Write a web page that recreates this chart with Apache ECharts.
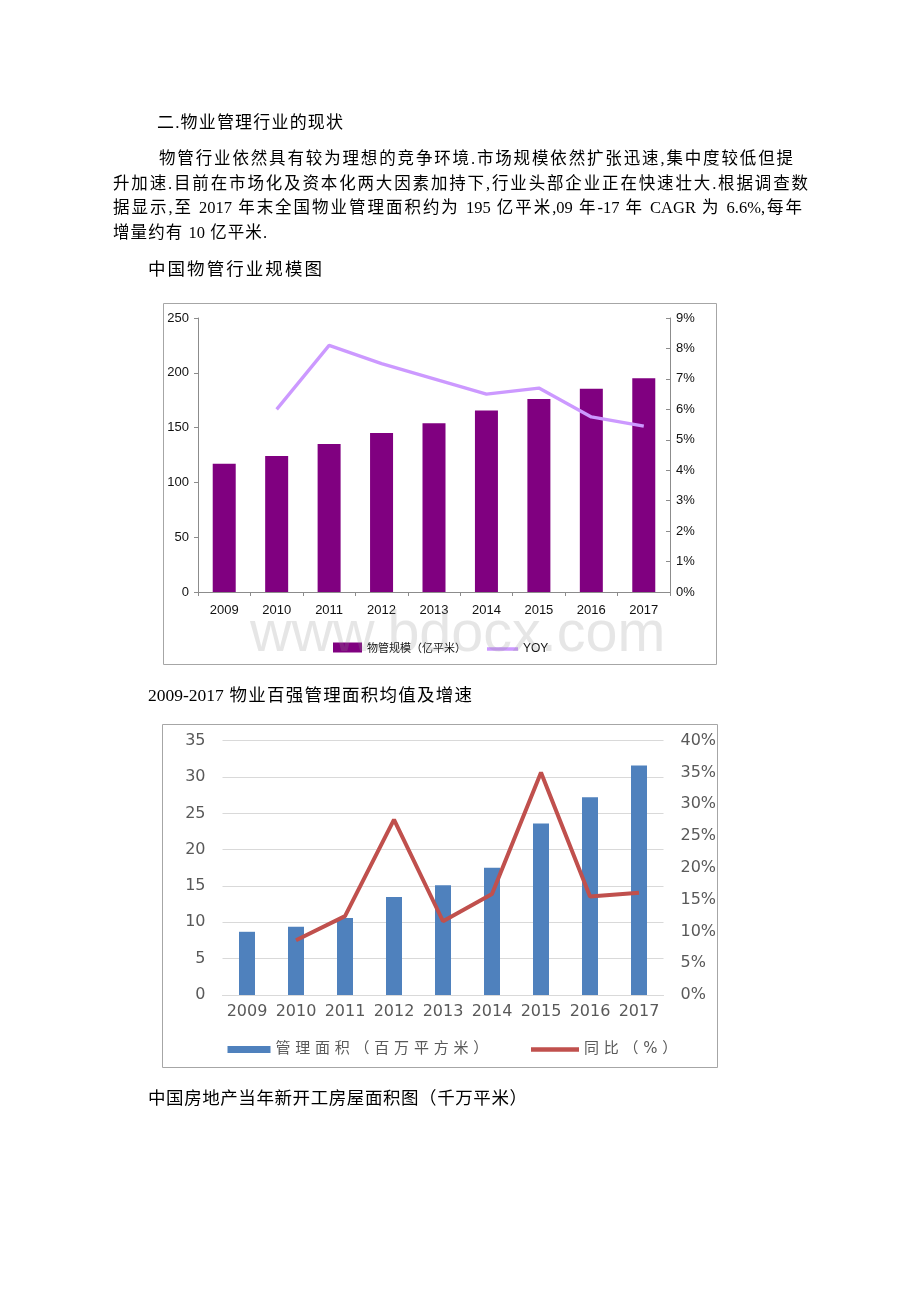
<!DOCTYPE html>
<html>
<head>
<meta charset="utf-8">
<script src="https://cdn.jsdelivr.net/npm/echarts@6/dist/echarts.min.js"></script>
<style>
  html, body { margin: 0; padding: 0; background: #fff; }
  #page { position: relative; width: 920px; height: 1302px; overflow: hidden; }
  #chart { position: absolute; left: 0; top: 0; width: 920px; height: 1302px; }
  .t { position: absolute; white-space: nowrap; color: #000;
       font-family: 'Liberation Serif', 'Noto Sans CJK SC', serif;
       text-align: justify; text-align-last: justify; line-height: 1; }
</style>
</head>
<body>
<div id="page">
  <div id="chart"></div>
  <div class="t" style="left:157px; top:114px; width:186px; font-size:17px;">二.物业管理行业的现状</div>
  <div class="t" style="left:159px; top:151px; width:634px; font-size:16.5px;">物管行业依然具有较为理想的竞争环境.市场规模依然扩张迅速,集中度较低但提</div>
  <div class="t" style="left:113px; top:175.5px; width:695px; font-size:16.5px;">升加速.目前在市场化及资本化两大因素加持下,行业头部企业正在快速壮大.根据调查数</div>
  <div class="t" style="left:113px; top:200px; width:689px; font-size:16.5px;">据显示,至 2017 年末全国物业管理面积约为 195 亿平米,09 年-17 年 CAGR 为 6.6%,每年</div>
  <div class="t" style="left:113px; top:224.5px; width:154px; font-size:16.5px;">增量约有 10 亿平米.</div>
  <div class="t" style="left:148px; top:261px; width:174px; font-size:17.5px;">中国物管行业规模图</div>
  <div class="t" style="left:148px; top:687px; width:324px; font-size:17.5px;">2009-2017 物业百强管理面积均值及增速</div>
  <div class="t" style="left:148px; top:1090px; width:379px; font-size:17.5px;">中国房地产当年新开工房屋面积图（千万平米）</div>
</div>
<script>
// ---- data ----
const years = ['2009', '2010', '2011', '2012', '2013', '2014', '2015', '2016', '2017'];
// chart 1: 中国物管行业规模 (亿平米) and YOY (%)
const scaleValues = [117, 124, 135, 145, 154, 165.5, 176, 185.5, 195];
const yoyValues = [null, 6.0, 8.1, 7.5, 7.0, 6.5, 6.7, 5.75, 5.45];
// chart 2: 百强管理面积均值 (百万平方米) and 同比 (%)
const areaValues = [8.7, 9.4, 10.6, 13.5, 15.1, 17.5, 23.6, 27.2, 31.6];
const growthValues = [null, 8.6, 12.4, 27.6, 11.6, 15.9, 35.0, 15.5, 16.1];
// axis ranges / tick steps
const axis1Left = { min: 0, max: 250, interval: 50 };
const axis1Right = { min: 0, max: 9, interval: 1 };
const axis2Left = { min: 0, max: 35, interval: 5 };
const axis2Right = { min: 0, max: 40, interval: 5 };
const names = {
  bar1: '物管规模（亿平米）', line1: 'YOY',
  bar2: '管理面积（百万平方米）', line2: '同比（%）'
};

const toSeries = arr => arr.map(v => (v === null ? '-' : v));
const spaced = s => s.split('').join(' ');

const narrow = "'Liberation Sans Narrow', 'Liberation Sans', Arial, sans-serif";
const ax1 = '#8c8c8c';
const lab2 = '#595959';

const chart = echarts.init(document.getElementById('chart'), null, { renderer: 'canvas' });
chart.setOption({
  animation: false,
  backgroundColor: 'transparent',
  grid: [
    { left: 198, top: 318, width: 472, height: 274 },
    { left: 222.5, top: 740.7, width: 441, height: 254.3 }
  ],
  xAxis: [
    {
      type: 'category', gridIndex: 0, data: years,
      axisLine: { lineStyle: { color: ax1, width: 1 } },
      axisTick: { show: true, length: 4, lineStyle: { color: ax1 } },
      axisLabel: { interval: 0, color: '#111', fontSize: 13, fontFamily: narrow, margin: 12 }
    },
    {
      type: 'category', gridIndex: 1, data: years,
      axisLine: { lineStyle: { color: '#d9d9d9', width: 1 } },
      axisTick: { show: false },
      axisLabel: { interval: 0, color: lab2, fontSize: 16, fontFamily: 'DejaVu Sans', margin: 9 }
    }
  ],
  yAxis: [
    {
      type: 'value', gridIndex: 0, min: axis1Left.min, max: axis1Left.max, interval: axis1Left.interval,
      axisLine: { show: true, lineStyle: { color: ax1 } },
      axisTick: { show: true, length: 4, lineStyle: { color: ax1 } },
      splitLine: { show: false },
      axisLabel: { color: '#111', fontSize: 13, fontFamily: narrow, margin: 9 }
    },
    {
      type: 'value', gridIndex: 0, position: 'right',
      min: axis1Right.min, max: axis1Right.max, interval: axis1Right.interval,
      axisLine: { show: true, lineStyle: { color: ax1 } },
      axisTick: { show: true, inside: true, length: 4, lineStyle: { color: ax1 } },
      splitLine: { show: false },
      axisLabel: { color: '#111', fontSize: 13, fontFamily: narrow, margin: 6, formatter: '{value}%' }
    },
    {
      type: 'value', gridIndex: 1, min: axis2Left.min, max: axis2Left.max, interval: axis2Left.interval,
      axisLine: { show: false }, axisTick: { show: false },
      splitLine: { show: true, lineStyle: { color: '#d9d9d9', width: 1 } },
      axisLabel: { color: lab2, fontSize: 16, fontFamily: 'DejaVu Sans', margin: 17 }
    },
    {
      type: 'value', gridIndex: 1, position: 'right',
      min: axis2Right.min, max: axis2Right.max, interval: axis2Right.interval,
      axisLine: { show: false }, axisTick: { show: false }, splitLine: { show: false },
      axisLabel: { color: lab2, fontSize: 16, fontFamily: 'DejaVu Sans', margin: 17, formatter: '{value}%' }
    }
  ],
  legend: [
    {
      data: [names.bar1], left: 328, top: 637, icon: 'rect', itemWidth: 29, itemHeight: 10,
      textStyle: { fontSize: 11, fontFamily: 'Noto Sans CJK SC', color: '#111' }
    },
    {
      data: [{ name: names.line1, icon: 'rect' }], left: 482, top: 638, itemWidth: 31, itemHeight: 3.5,
      textStyle: { fontSize: 12, fontFamily: narrow, color: '#111' }
    },
    {
      data: [names.bar2], left: 222.5, top: 1037, icon: 'rect', itemWidth: 43, itemHeight: 7,
      formatter: spaced,
      textStyle: { fontSize: 15, fontFamily: "'DejaVu Sans', 'Noto Sans CJK SC'", color: lab2 }
    },
    {
      data: [{ name: names.line2, icon: 'rect' }], left: 526, top: 1037, itemWidth: 48, itemHeight: 4.5,
      formatter: spaced,
      textStyle: { fontSize: 15, fontFamily: "'DejaVu Sans', 'Noto Sans CJK SC'", color: lab2 }
    }
  ],
  series: [
    {
      name: names.bar1, type: 'bar', xAxisIndex: 0, yAxisIndex: 0, barWidth: 23,
      itemStyle: { color: '#800080' }, data: scaleValues
    },
    {
      name: names.line1, type: 'line', xAxisIndex: 0, yAxisIndex: 1, symbol: 'none',
      lineStyle: { color: '#CC99FF', width: 3.3 }, itemStyle: { color: '#CC99FF' },
      data: toSeries(yoyValues)
    },
    {
      name: names.bar2, type: 'bar', xAxisIndex: 1, yAxisIndex: 2, barWidth: 16,
      itemStyle: { color: '#4F81BD' }, data: areaValues
    },
    {
      name: names.line2, type: 'line', xAxisIndex: 1, yAxisIndex: 3, symbol: 'none',
      lineStyle: { color: '#C0504D', width: 4 }, itemStyle: { color: '#C0504D' },
      data: toSeries(growthValues)
    }
  ],
  graphic: [
    {
      type: 'rect', z: 0, silent: true,
      shape: { x: 163.5, y: 303.5, width: 553, height: 361 },
      style: { fill: 'none', stroke: '#a6a6a6', lineWidth: 1 }
    },
    {
      type: 'rect', z: 0, silent: true,
      shape: { x: 162.5, y: 724.5, width: 555, height: 343 },
      style: { fill: 'none', stroke: '#a6a6a6', lineWidth: 1 }
    },
    {
      type: 'text', z: 100, silent: true, left: 250, top: 606,
      style: {
        text: 'www.bdocx.com', fontSize: 57.5, fontFamily: "'Liberation Sans', Arial, sans-serif",
        fill: 'rgba(140,140,140,0.22)'
      }
    }
  ]
});
</script>
</body>
</html>
